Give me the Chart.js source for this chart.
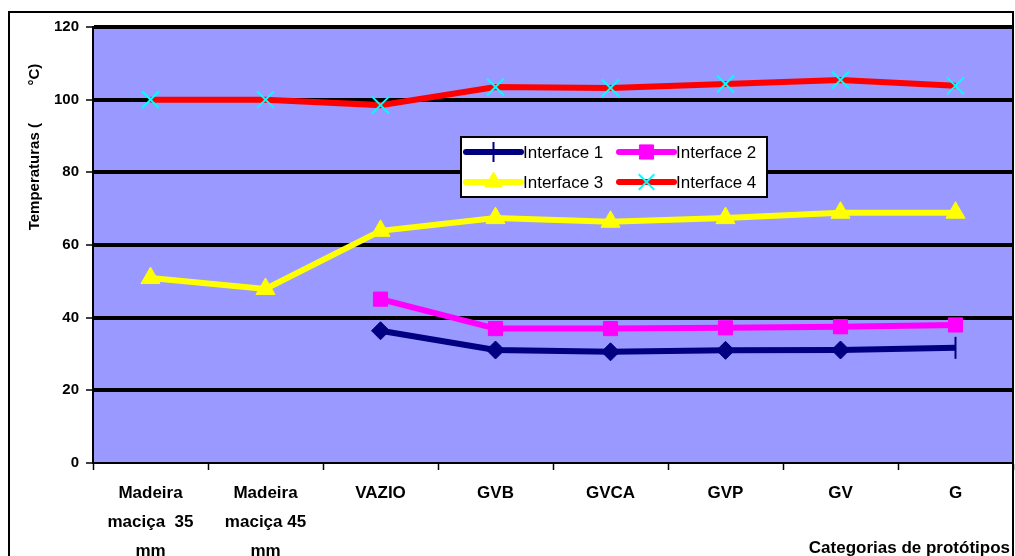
<!DOCTYPE html>
<html>
<head>
<meta charset="utf-8">
<script src="https://cdn.jsdelivr.net/npm/chart.js@4"></script>
<style>
  html, body { margin: 0; padding: 0; background: #fff; }
  #wrap { width: 1015px; height: 556px; }
</style>
</head>
<body>
<div id="wrap"><canvas id="c" width="1015" height="556"></canvas></div>
<script>
// data
const categories = [
  ['Madeira', 'maciça  35', 'mm'],
  ['Madeira', 'maciça 45', 'mm'],
  'VAZIO', 'GVB', 'GVCA', 'GVP', 'GV', 'G'
];
const interface1 = [null, null, 36.4, 31.1, 30.6, 31.0, 31.1, 31.7];
const interface2 = [null, null, 45.1, 37.0, 37.0, 37.2, 37.5, 38.0];
const interface3 = [50.9, 47.9, 63.9, 67.4, 66.4, 67.4, 68.9, 68.9];
const interface4 = [100, 100, 98.5, 103.5, 103.2, 104.3, 105.4, 103.8];
const yTicks = [0, 20, 40, 60, 80, 100, 120];

const FONT = "'Liberation Sans', Arial, sans-serif";

// marker shape per point for Interface 1 (last point is a vertical dash)
const i1Styles = interface1.map((v, i) => i === interface1.length - 1 ? 'line' : 'rectRot');
const i1Rot = interface1.map((v, i) => i === interface1.length - 1 ? 90 : 0);
const i1BW = interface1.map((v, i) => i === interface1.length - 1 ? 2 : 1);
const i1Rad = interface1.map((v, i) => i === interface1.length - 1 ? 11 : 9);

const legendItems = [
  { text: 'Interface 1', color: '#000080', marker: '#000080', style: 'line', rotation: 90, radius: 10, bw: 2 },
  { text: 'Interface 2', color: '#FF00FF', marker: '#FF00FF', style: 'rect', radius: 10, bw: 1 },
  { text: 'Interface 3', color: '#FFFF00', marker: '#FFFF00', style: 'triangle', radius: 10, bw: 1 },
  { text: 'Interface 4', color: '#FF0000', marker: '#00FFFF', style: 'crossRot', radius: 11, bw: 2 }
];

const decor = {
  id: 'decor',
  beforeDraw(chart) {
    const { ctx, chartArea: a } = chart;
    ctx.save();
    ctx.fillStyle = '#9999FF';
    ctx.fillRect(a.left, a.top, a.right - a.left, a.bottom - a.top);
    ctx.restore();
  },
  afterDraw(chart) {
    const ctx = chart.ctx;
    ctx.save();
    // outer frame
    ctx.strokeStyle = '#000';
    ctx.lineWidth = 2;
    ctx.strokeRect(9, 12, 1004, 600);

    // y axis title
    ctx.fillStyle = '#000';
    ctx.font = 'bold 15px ' + FONT;
    ctx.textAlign = 'center';
    ctx.textBaseline = 'middle';
    ctx.translate(35, 147);
    ctx.rotate(-Math.PI / 2);
    ctx.fillText('Temperaturas (         °C)', 0, 0);
    ctx.restore();

    ctx.save();
    // x axis title
    ctx.fillStyle = '#000';
    ctx.font = 'bold 17px ' + FONT;
    ctx.textAlign = 'right';
    ctx.textBaseline = 'middle';
    ctx.fillText('Categorias de protótipos', 1010, 548);

    // legend box
    const bx = 461, by = 137, bw = 306, bh = 60;
    ctx.fillStyle = '#fff';
    ctx.fillRect(bx, by, bw, bh);
    ctx.strokeStyle = '#000';
    ctx.lineWidth = 2;
    ctx.strokeRect(bx, by, bw, bh);
    ctx.font = '17px ' + FONT;
    ctx.textAlign = 'left';
    legendItems.forEach((it, i) => {
      const col = i % 2, row = Math.floor(i / 2);
      const x0 = col ? 619 : 466, x1 = x0 + 55;
      const y = row ? 182 : 152;
      ctx.strokeStyle = it.color;
      ctx.lineWidth = 6;
      ctx.lineCap = 'round';
      ctx.beginPath();
      ctx.moveTo(x0, y);
      ctx.lineTo(x1, y);
      ctx.stroke();
      ctx.lineCap = 'butt';
      ctx.fillStyle = it.marker;
      ctx.strokeStyle = it.marker;
      ctx.lineWidth = it.bw;
      Chart.helpers.drawPoint(ctx, { pointStyle: it.style, radius: it.radius, rotation: it.rotation || 0, borderWidth: it.bw }, (x0 + x1) / 2, y);
      ctx.fillStyle = '#000';
      ctx.fillText(it.text, x1 + 2, y + 1);
    });
    ctx.restore();
  }
};

new Chart(document.getElementById('c'), {
  type: 'line',
  data: {
    labels: categories,
    datasets: [
      {
        label: 'Interface 1', data: interface1,
        borderColor: '#000080', backgroundColor: '#000080', borderWidth: 6,
        pointStyle: i1Styles, pointRotation: i1Rot, pointRadius: i1Rad,
        pointBackgroundColor: '#000080', pointBorderColor: '#000080', pointBorderWidth: i1BW
      },
      {
        label: 'Interface 2', data: interface2,
        borderColor: '#FF00FF', backgroundColor: '#FF00FF', borderWidth: 6,
        pointStyle: 'rect', pointRadius: 10,
        pointBackgroundColor: '#FF00FF', pointBorderColor: '#FF00FF', pointBorderWidth: 1
      },
      {
        label: 'Interface 3', data: interface3,
        borderColor: '#FFFF00', backgroundColor: '#FFFF00', borderWidth: 6,
        pointStyle: 'triangle', pointRadius: 11,
        pointBackgroundColor: '#FFFF00', pointBorderColor: '#FFFF00', pointBorderWidth: 1
      },
      {
        label: 'Interface 4', data: interface4,
        borderColor: '#FF0000', backgroundColor: '#FF0000', borderWidth: 6,
        pointStyle: 'crossRot', pointRadius: 12,
        pointBackgroundColor: '#00FFFF', pointBorderColor: '#00FFFF', pointBorderWidth: 2
      }
    ]
  },
  options: {
    responsive: false,
    animation: false,
    devicePixelRatio: 1,
    layout: { autoPadding: false, padding: { left: 0, top: 27, right: 2, bottom: 0 } },
    plugins: { legend: { display: false }, tooltip: { enabled: false } },
    elements: { line: { tension: 0 } },
    scales: {
      x: {
        offset: true,
        afterFit: s => { s.height = 93; s.paddingLeft = 0; s.paddingRight = 0; },
        border: { color: '#000', width: 2 },
        grid: { offset: true, drawOnChartArea: false, drawTicks: true, tickLength: 7, tickColor: '#000', tickWidth: 1.5 },
        ticks: {
          color: '#000', padding: 9, maxRotation: 0, autoSkip: false,
          font: { family: FONT, size: 17, weight: 'bold', lineHeight: 1.7 }
        }
      },
      y: {
        min: 0, max: 120,
        afterFit: s => { s.width = 93; s.paddingTop = 0; s.paddingBottom = 0; },
        afterBuildTicks: s => { s.ticks = yTicks.map(v => ({ value: v })); },
        border: { color: '#000', width: 2 },
        grid: {
          color: '#000',
          lineWidth: c => (c.tick && c.tick.value === 0) ? 0 : 4,
          drawTicks: true, tickLength: 7, tickColor: '#000', tickWidth: 1.5
        },
        ticks: {
          color: '#000', padding: 7,
          font: { family: FONT, size: 15, weight: 'bold' }
        }
      }
    }
  },
  plugins: [decor]
});
</script>
</body>
</html>
